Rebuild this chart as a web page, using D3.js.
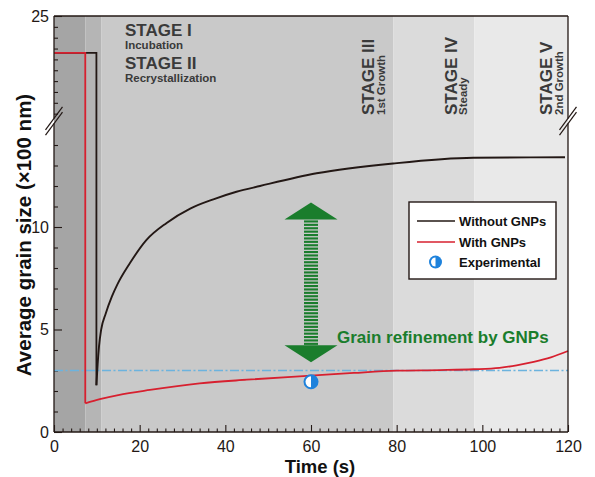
<!DOCTYPE html>
<html><head><meta charset="utf-8">
<script src="https://cdn.jsdelivr.net/npm/d3@7"></script>
<style>
html,body{margin:0;padding:0;background:#fff;}
svg{display:block;font-family:"Liberation Sans",Arial,Helvetica,sans-serif;}
</style></head>
<body>
<svg id="chart" width="595" height="477"></svg>
<script>
// ---------- data ----------
const xTicks = [0, 20, 40, 60, 80, 100, 120];
const yTicks = [0, 5, 10, 25];
const stageBounds = [0, 7.3, 11.1, 79.2, 98.1, 120];
const stageColors = ["#a5a5a5", "#b5b5b5", "#c9c9c9", "#dbdbdb", "#e9e9e9"];
const initialSize = 21.6;
const blackDropX = 9.9;
const redDropX = 7.3;
const blackCurve = [[9.9,2.28],[10.2,3.35],[10.5,4.16],[11.0,4.98],[12.1,5.79],[13.5,6.6],[14.8,7.2],[17.7,8.23],[21.6,9.37],[26.3,10.2],[31.8,10.9],[37.2,11.35],[42.6,11.72],[48.1,12.0],[61.3,12.62],[79.2,13.1],[97.9,13.38],[119.3,13.4]];
const redCurve = [[7.3,1.4],[10.7,1.6],[15,1.8],[22.4,2.05],[34,2.37],[45,2.55],[60,2.75],[70,2.88],[80,2.99],[90,3.02],[98,3.06],[104,3.13],[108,3.25],[112,3.42],[116,3.64],[120,3.95]];
const refLevel = 3.0;
const experimental = [[60, 2.45]];
const arrowX = 60, arrowTop = 11.2, arrowBottom = 3.4;
const legendLabels = ["Without GNPs", "With GNPs", "Experimental"];

// ---------- setup ----------
const svg = d3.select("#chart");
const L = 54, R = 568, T = 16, B = 432;
const x = d3.scaleLinear().domain([0, 120]).range([L, R]);
const y = d3.scaleLinear().domain([0, 15, 25]).range([B, 124.5, T]);
const cBlack = "#231815", cRed = "#d7202f", cGreen = "#1a7d2c", cBlue = "#1e82dc", cText = "#3a3a3a";

// stage bands
svg.append("g").selectAll("rect").data(stageColors).join("rect")
  .attr("x", (d,i) => x(stageBounds[i]))
  .attr("width", (d,i) => x(stageBounds[i+1]) - x(stageBounds[i]))
  .attr("y", T).attr("height", B - T).attr("fill", d => d);

// ticks (inward)
const minorX = d3.range(0, 121, 2).filter(v => v % 20 !== 0);
const gx = svg.append("g").attr("transform", `translate(0,${B})`);
gx.call(d3.axisBottom(x).tickValues(minorX).tickSizeInner(-3.5).tickSizeOuter(0).tickFormat(""));
gx.append("g").call(d3.axisBottom(x).tickValues(xTicks).tickSizeInner(-7).tickSizeOuter(0).tickPadding(9));
gx.selectAll(".domain").remove();
gx.selectAll("line").attr("stroke", cBlack).attr("stroke-width", 1.1);
gx.selectAll("text").attr("font-size", 16).attr("fill", cBlack).attr("font-family", "Liberation Sans, Arial");

const minorY = d3.range(1, 25).filter(v => v !== 5 && v !== 10 && v !== 15);
const gy = svg.append("g").attr("transform", `translate(${L},0)`);
gy.call(d3.axisLeft(y).tickValues(minorY).tickSizeInner(-4).tickSizeOuter(0).tickFormat(""));
gy.append("g").call(d3.axisLeft(y).tickValues(yTicks).tickSizeInner(-8).tickSizeOuter(0).tickPadding(5));
gy.selectAll(".domain").remove();
gy.selectAll("line").attr("stroke", cBlack).attr("stroke-width", 1.1);
gy.selectAll("text").attr("font-size", 16).attr("fill", cBlack).attr("font-family", "Liberation Sans, Arial");

// reference dash-dot line
svg.append("line").attr("x1", x(0)).attr("x2", x(120)).attr("y1", y(refLevel)).attr("y2", y(refLevel))
  .attr("stroke", "#6cb3de").attr("stroke-width", 1.3).attr("stroke-dasharray", "9,2.5,2,2.5");

// lines
const lin = d3.line().x(d => x(d[0])).y(d => y(d[1]));
const curve = d3.line().x(d => x(d[0])).y(d => y(d[1])).curve(d3.curveMonotoneX);
const blackStep = [[0, initialSize], [blackDropX, initialSize], [blackDropX, blackCurve[0][1]]];
const redStep = [[0, initialSize], [redDropX, initialSize], [redDropX, redCurve[0][1]]];
svg.append("path").attr("d", lin(blackStep)).attr("fill", "none").attr("stroke", cBlack).attr("stroke-width", 1.8);
svg.append("path").attr("d", curve(blackCurve)).attr("fill", "none").attr("stroke", cBlack).attr("stroke-width", 1.9);
svg.append("path").attr("d", lin(redStep)).attr("fill", "none").attr("stroke", cRed).attr("stroke-width", 1.8);
svg.append("path").attr("d", curve(redCurve)).attr("fill", "none").attr("stroke", cRed).attr("stroke-width", 1.8);

// half-filled marker
function halfMarker(g, cx, cy, r) {
  g.append("circle").attr("cx", cx).attr("cy", cy).attr("r", r).attr("fill", cBlue);
  const ri = r - 2;
  g.append("path").attr("d", `M${cx},${cy - ri} A${ri},${ri} 0 0 0 ${cx},${cy + ri} Z`).attr("fill", "#fff");
}
experimental.forEach(d => halfMarker(svg, x(d[0]), y(d[1]), 7.5));

// green double arrow
const ax = x(arrowX), yt = y(arrowTop), yb = y(arrowBottom);
const hh = 17, hw = 26.5, sw = 7;
const ga = svg.append("g").attr("fill", cGreen);
ga.append("path").attr("d", `M${ax},${yt} L${ax + hw},${yt + hh} L${ax - hw},${yt + hh} Z`);
ga.append("path").attr("d", `M${ax},${yb} L${ax + hw},${yb - hh} L${ax - hw},${yb - hh} Z`);
for (let yy = yt + hh + 1; yy < yb - hh - 1; yy += 3.4) {
  ga.append("rect").attr("x", ax - sw).attr("width", 2 * sw).attr("y", yy).attr("height", 2.1);
}
svg.append("text").attr("x", 337).attr("y", 343).attr("font-size", 17).attr("font-weight", "bold")
  .attr("fill", cGreen).text("Grain refinement by GNPs");

// stage labels
const st = svg.append("g").attr("fill", cText).attr("font-weight", "bold");
st.append("text").attr("x", 125).attr("y", 35.5).attr("font-size", 17).text("STAGE I");
st.append("text").attr("x", 125).attr("y", 48.5).attr("font-size", 11.5).text("Incubation");
st.append("text").attr("x", 125).attr("y", 68.5).attr("font-size", 17).text("STAGE II");
st.append("text").attr("x", 125).attr("y", 81.5).attr("font-size", 11.5).text("Recrystallization");
const rot = [["STAGE III", "1st Growth", 374, 385], ["STAGE IV", "Steady", 456.5, 466.5], ["STAGE V", "2nd Growth", 551.5, 562.5]];
rot.forEach(r => {
  st.append("text").attr("transform", `translate(${r[2]},115) rotate(-90)`).attr("font-size", 17).text(r[0]);
  st.append("text").attr("transform", `translate(${r[3]},115) rotate(-90)`).attr("font-size", 11.5).text(r[1]);
});

// frame with breaks
const yBreak = 121, gap = 2.6;
const fr = svg.append("g").attr("stroke", cBlack).attr("stroke-width", 1.3).attr("fill", "none");
fr.append("line").attr("x1", L).attr("x2", R).attr("y1", T).attr("y2", T);
fr.append("line").attr("x1", L).attr("x2", R).attr("y1", B).attr("y2", B);
[L, R].forEach(xx => {
  fr.append("line").attr("x1", xx).attr("x2", xx).attr("y1", B).attr("y2", yBreak + gap);
  fr.append("line").attr("x1", xx).attr("x2", xx).attr("y1", yBreak - gap).attr("y2", T);
  [-gap, gap].forEach(o => {
    fr.append("line").attr("x1", xx - 8.5).attr("y1", yBreak + o + 11.5)
      .attr("x2", xx + 8.5).attr("y2", yBreak + o - 11.5).attr("stroke-width", 1.2);
  });
});

// legend
const lg = svg.append("g");
lg.append("rect").attr("x", 409).attr("y", 202).attr("width", 147).attr("height", 77)
  .attr("fill", "#fff").attr("stroke", cBlack).attr("stroke-width", 1.4);
const ly = [221, 242, 262];
lg.append("line").attr("x1", 417).attr("x2", 455).attr("y1", ly[0]).attr("y2", ly[0]).attr("stroke", cBlack).attr("stroke-width", 1.5);
lg.append("line").attr("x1", 417).attr("x2", 455).attr("y1", ly[1]).attr("y2", ly[1]).attr("stroke", cRed).attr("stroke-width", 1.5);
halfMarker(lg, 435.5, ly[2], 6.5);
legendLabels.forEach((t, i) => {
  lg.append("text").attr("x", 459).attr("y", ly[i] + 4.5).attr("font-size", 13).attr("font-weight", "bold")
    .attr("fill", "#111").text(t);
});

// axis titles
svg.append("text").attr("x", 320).attr("y", 473).attr("text-anchor", "middle").attr("font-size", 18.5)
  .attr("font-weight", "bold").attr("fill", "#111").text("Time (s)");
svg.append("text").attr("transform", "translate(31,235) rotate(-90)").attr("text-anchor", "middle")
  .attr("font-size", 20.5).attr("font-weight", "bold").attr("fill", "#111").text("Average grain size (×100 nm)");
</script>
</body></html>
